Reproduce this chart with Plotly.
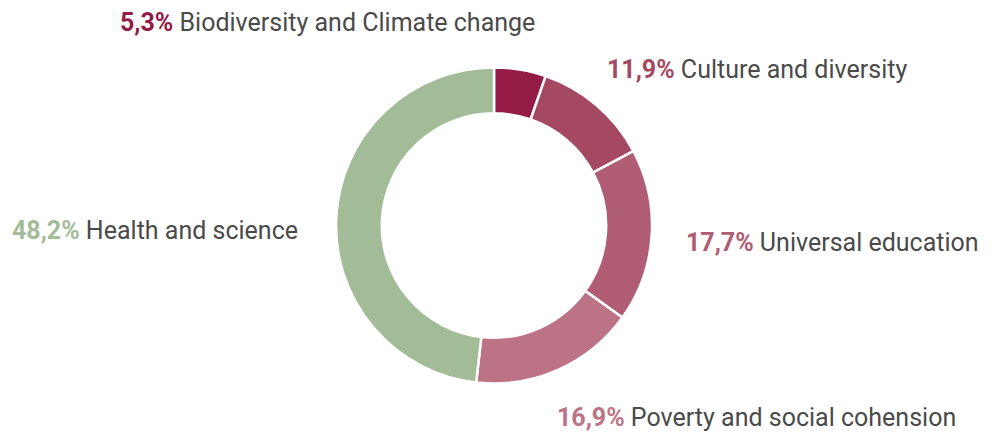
import plotly.graph_objects as go

# Data
categories = ["Biodiversity and Climate change", "Culture and diversity",
              "Universal education", "Poverty and social cohension",
              "Health and science"]
values = [5.3, 11.9, 17.7, 16.9, 48.2]
pct_labels = ["5,3%", "11,9%", "17,7%", "16,9%", "48,2%"]

colors = ["#951B47", "#A54963", "#B05C74", "#BC7385", "#A3BC98"]
text_grey = "#4A4A4A"

W, H = 992, 434
cx, cy, r = 494, 225.5, 158

fig = go.Figure()
fig.add_trace(go.Pie(
    labels=categories,
    values=values,
    hole=0.71,
    sort=False,
    direction="clockwise",
    rotation=0,
    marker=dict(colors=colors, line=dict(color="white", width=2.5)),
    textinfo="none",
    hoverinfo="label+percent",
    showlegend=False,
    domain=dict(x=[(cx - r) / W, (cx + r) / W], y=[(H - cy - r) / H, (H - cy + r) / H]),
))

# label positions (pixels, left edge / vertical middle)
label_pos = [(118, 22), (605, 70), (684, 243), (555, 417), (10, 230)]

for (px, py), pct, cat, col in zip(label_pos, pct_labels, categories, colors):
    fig.add_annotation(
        x=px / W, y=1 - py / H, xref="paper", yref="paper",
        xanchor="left", yanchor="middle", showarrow=False,
        text=f"<b><span style='color:{col}'>{pct}</span></b> {cat}",
        font=dict(family="Roboto", size=25, color=text_grey),
    )

fig.update_layout(
    width=W, height=H,
    margin=dict(l=0, r=0, t=0, b=0),
    paper_bgcolor="white",
    plot_bgcolor="white",
)

fig.write_html("out.html", config={"displayModeBar": False},
               post_script="document.body.style.margin='0';")
